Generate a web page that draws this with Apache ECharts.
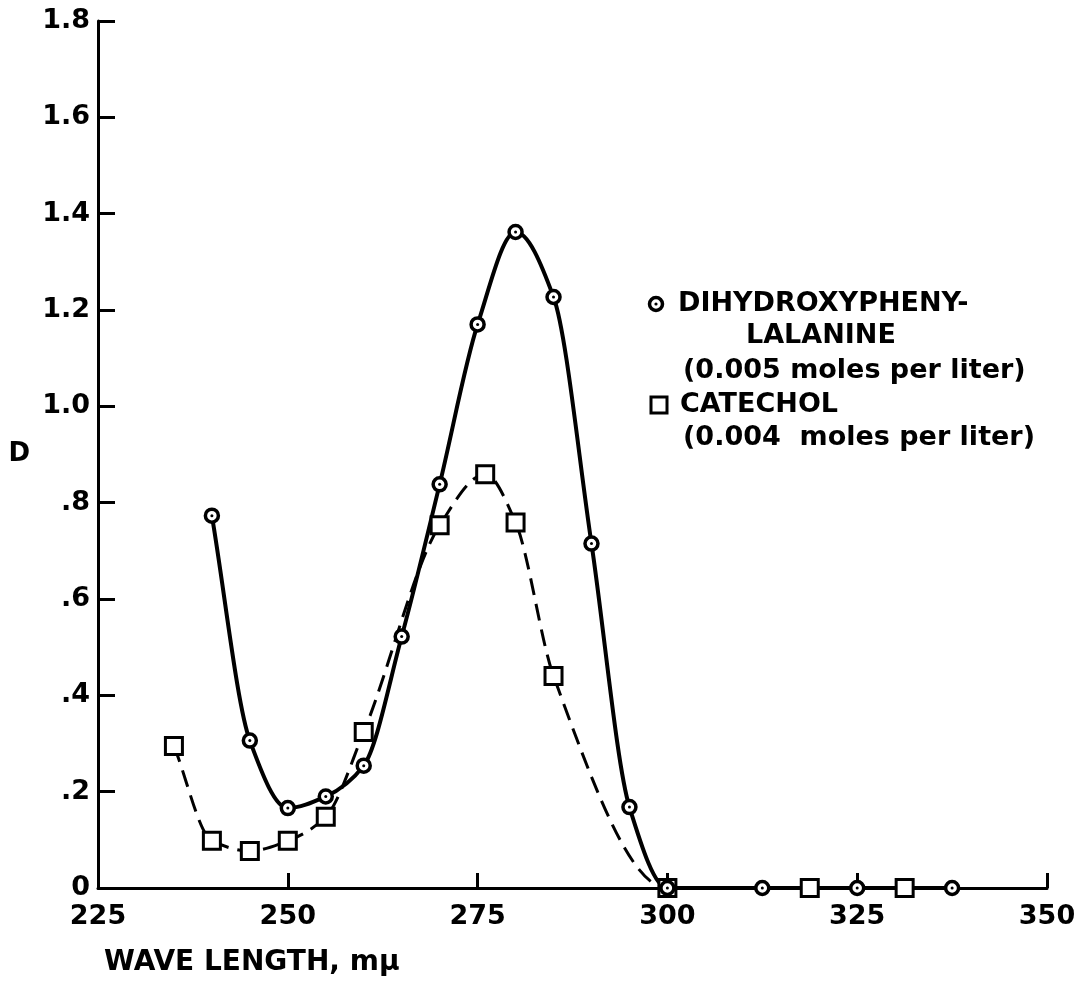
<!DOCTYPE html>
<html>
<head>
<meta charset="utf-8">
<script src="https://cdn.jsdelivr.net/npm/echarts@6/dist/echarts.min.js"></script>
<style>
html,body{margin:0;padding:0;background:#fff;}
#chart{width:1082px;height:991px;}
</style>
</head>
<body>
<div id="chart"></div>
<script>
// Wavelength (m\u03bc) and optical density D
const dopaX = [240, 245, 250, 255, 260, 265, 270, 275, 280, 285, 290, 295, 300, 312.5, 325, 337.5];
const dopaD = [0.773, 0.306, 0.166, 0.19, 0.254, 0.522, 0.838, 1.17, 1.362, 1.227, 0.715, 0.168, 0, 0, 0, 0];
const catX = [235, 240, 245, 250, 255, 260, 270, 276, 280, 285, 300, 318.75, 331.25];
const catD = [0.295, 0.098, 0.077, 0.098, 0.148, 0.324, 0.753, 0.859, 0.759, 0.44, 0, 0, 0];
const xTicks = [225, 250, 275, 300, 325, 350];
const yTickLabels = {0:'0', 0.2:'.2', 0.4:'.4', 0.6:'.6', 0.8:'.8', 1:'1.0', 1.2:'1.2', 1.4:'1.4', 1.6:'1.6', 1.8:'1.8'};
const legendLines = ['DIHYDROXYPHENY-', 'LALANINE', '(0.005 moles per liter)', 'CATECHOL', '(0.004  moles per liter)'];
const xName = 'WAVE LENGTH, m\u03bc';
const yName = 'D';

const pairs = (xs, ys) => xs.map((x, i) => [x, ys[i]]);
const FONT = "'DejaVu Sans', 'Liberation Sans', sans-serif";

// Monotone cubic (Fritsch-Carlson) tangents, used to draw a smooth curve through the data points
function monotoneTangents(xs, ys) {
  const n = xs.length, d = [], h = [], m = new Array(n);
  for (let i = 0; i < n - 1; i++) { h[i] = xs[i+1] - xs[i]; d[i] = (ys[i+1] - ys[i]) / h[i]; }
  m[0] = d[0]; m[n-1] = d[n-2];
  for (let k = 1; k < n - 1; k++) {
    if (d[k-1] * d[k] <= 0) { m[k] = 0; }
    else {
      const w1 = 2 * h[k] + h[k-1], w2 = h[k] + 2 * h[k-1];
      m[k] = (w1 + w2) / (w1 / d[k-1] + w2 / d[k]);
    }
  }
  return m;
}

function curveSeries(name, xs, ys, style) {
  return {
    type: 'custom', name: name, data: pairs(xs, ys), silent: true, z: 2,
    encode: {x: 0, y: 1},
    renderItem: function (params, api) {
      if (params.dataIndex !== 0) return null;
      const m = monotoneTangents(xs, ys);
      const p0 = api.coord([xs[0], ys[0]]);
      let path = 'M' + p0[0] + ' ' + p0[1];
      for (let i = 0; i < xs.length - 1; i++) {
        const h = xs[i+1] - xs[i];
        const c1 = api.coord([xs[i] + h / 3, ys[i] + m[i] * h / 3]);
        const c2 = api.coord([xs[i+1] - h / 3, ys[i+1] - m[i+1] * h / 3]);
        const p = api.coord([xs[i+1], ys[i+1]]);
        path += ' C' + c1[0] + ' ' + c1[1] + ' ' + c2[0] + ' ' + c2[1] + ' ' + p[0] + ' ' + p[1];
      }
      return {type: 'path', shape: {pathData: path}, style: Object.assign({fill: 'none', stroke: '#000'}, style)};
    }
  };
}

const chart = echarts.init(document.getElementById('chart'), null, {renderer: 'canvas'});

const option = {
  backgroundColor: '#fff',
  animation: false,
  grid: {left: 98, right: 35, top: 21, bottom: 103},
  xAxis: {
    type: 'value', min: 225, max: 350, interval: 25,
    axisLine: {lineStyle: {color: '#000', width: 3}},
    axisTick: {inside: true, length: 15, lineStyle: {color: '#000', width: 3}},
    axisLabel: {color: '#000', fontSize: 27, fontFamily: FONT, fontWeight: 'bold', margin: 15,
      formatter: v => xTicks.includes(v) ? String(v) : ''},
    splitLine: {show: false}
  },
  yAxis: {
    type: 'value', min: 0, max: 1.8, interval: 0.2,
    name: yName, nameLocation: 'middle', nameRotate: 0, nameGap: 68,
    nameTextStyle: {color: '#000', fontSize: 26, fontFamily: FONT, fontWeight: 'bold', padding: [6, 0, 0, 0]},
    axisLine: {lineStyle: {color: '#000', width: 3}},
    axisTick: {inside: true, length: 17, lineStyle: {color: '#000', width: 3}},
    axisLabel: {color: '#000', fontSize: 27, fontFamily: FONT, fontWeight: 'bold', margin: 8,
      formatter: v => { const k = Math.round(v * 10) / 10; return yTickLabels[k] !== undefined ? yTickLabels[k] : ''; }},
    splitLine: {show: false}
  },
  series: [
    curveSeries('dopa-curve', dopaX, dopaD, {lineWidth: 4}),
    curveSeries('catechol-curve', catX, catD, {lineWidth: 3, lineDash: [17, 9]}),
    {
      name: 'DIHYDROXYPHENYLALANINE', type: 'scatter', data: pairs(dopaX, dopaD),
      symbol: 'circle', symbolSize: 13,
      itemStyle: {color: '#fff', borderColor: '#000', borderWidth: 3.5, opacity: 1},
      z: 4
    },
    {
      name: 'dopa-centre', type: 'scatter', data: pairs(dopaX, dopaD),
      symbol: 'circle', symbolSize: 3, itemStyle: {color: '#000', opacity: 1}, silent: true, z: 5
    },
    {
      name: 'CATECHOL', type: 'scatter', data: pairs(catX, catD),
      symbol: 'rect', symbolSize: 17,
      itemStyle: {color: '#fff', borderColor: '#000', borderWidth: 3, opacity: 1},
      z: 3
    }
  ],
  graphic: [
    {type: 'circle', shape: {cx: 656, cy: 304, r: 6.5}, style: {fill: '#fff', stroke: '#000', lineWidth: 3.5}},
    {type: 'circle', shape: {cx: 656, cy: 304, r: 1.6}, style: {fill: '#000'}},
    {type: 'rect', shape: {x: 651, y: 397, width: 16, height: 16}, style: {fill: '#fff', stroke: '#000', lineWidth: 3}},
    {type: 'text', x: 678, y: 304, style: {text: legendLines[0], font: 'bold 27px ' + FONT, fill: '#000', verticalAlign: 'middle'}},
    {type: 'text', x: 746, y: 336, style: {text: legendLines[1], font: 'bold 27px ' + FONT, fill: '#000', verticalAlign: 'middle'}},
    {type: 'text', x: 683, y: 371, style: {text: legendLines[2], font: 'bold 27px ' + FONT, fill: '#000', verticalAlign: 'middle'}},
    {type: 'text', x: 680, y: 405, style: {text: legendLines[3], font: 'bold 27px ' + FONT, fill: '#000', verticalAlign: 'middle'}},
    {type: 'text', x: 683, y: 438, style: {text: legendLines[4], font: 'bold 27px ' + FONT, fill: '#000', verticalAlign: 'middle'}},
    {type: 'text', x: 104, y: 963, style: {text: xName, font: 'bold 28px ' + FONT, fill: '#000', verticalAlign: 'middle'}}
  ]
};
chart.setOption(option);
</script>
</body>
</html>
